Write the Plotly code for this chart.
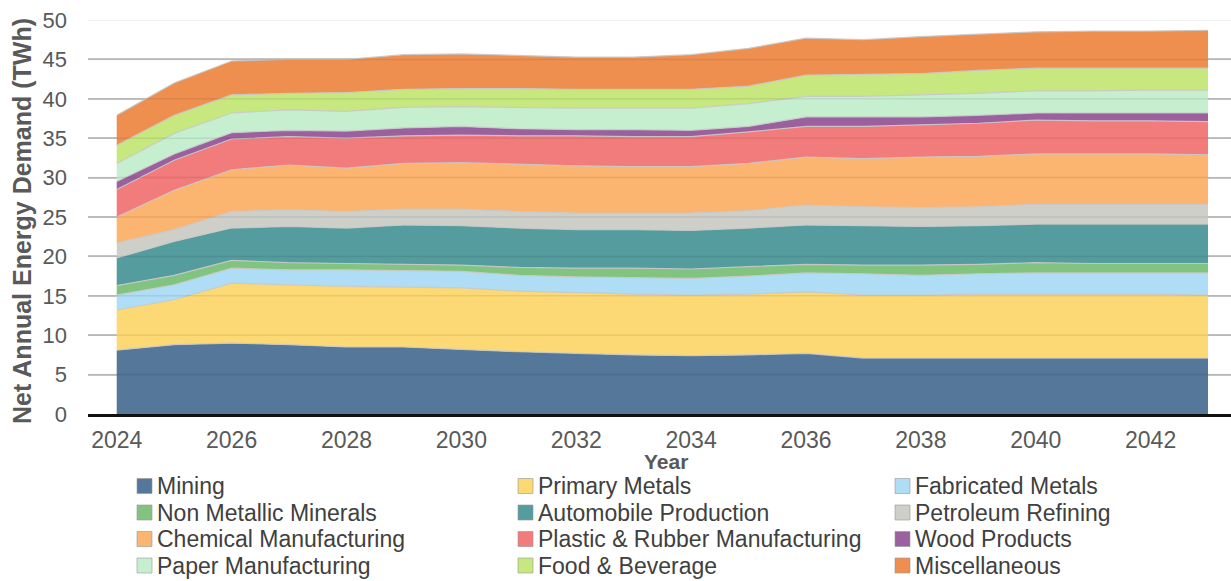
import plotly.graph_objects as go

# ---- data: net annual energy demand by industrial sector (TWh) ----
years = list(range(2024, 2044))

mining = [8.1, 8.8, 9.0, 8.8, 8.5, 8.5, 8.2, 7.9, 7.7, 7.5,
          7.4, 7.5, 7.7, 7.1, 7.1, 7.1, 7.1, 7.1, 7.1, 7.1]
primary_metals = [5.1, 5.7, 7.6, 7.6, 7.7, 7.6, 7.8, 7.7, 7.7, 7.7,
                  7.7, 7.7, 7.8, 8.0, 8.0, 8.1, 8.1, 8.1, 8.1, 8.0]
fabricated_metals = [1.9, 1.9, 1.9, 1.9, 2.1, 2.1, 2.1, 2.0, 2.0, 2.1,
                     2.1, 2.3, 2.4, 2.7, 2.5, 2.6, 2.7, 2.7, 2.7, 2.8]
non_metallic = [1.2, 1.2, 1.0, 0.9, 0.8, 0.8, 0.8, 1.0, 1.1, 1.2,
                1.2, 1.2, 1.1, 1.1, 1.3, 1.2, 1.3, 1.2, 1.2, 1.2]
automobile = [3.5, 4.3, 4.1, 4.6, 4.5, 5.0, 5.0, 5.0, 4.9, 4.9,
              4.9, 4.9, 5.0, 5.0, 4.9, 4.9, 4.9, 5.0, 5.0, 5.0]
petroleum = [1.9, 1.5, 2.1, 2.1, 2.1, 2.0, 2.1, 2.1, 2.1, 2.1,
             2.2, 2.2, 2.5, 2.4, 2.4, 2.4, 2.5, 2.5, 2.5, 2.5]
chemical = [3.3, 5.0, 5.3, 5.7, 5.5, 5.8, 5.9, 6.0, 6.0, 5.9,
            5.9, 6.0, 6.1, 6.1, 6.4, 6.4, 6.4, 6.4, 6.4, 6.3]
plastic_rubber = [3.5, 3.8, 3.9, 3.6, 3.8, 3.5, 3.5, 3.6, 3.8, 3.8,
                  3.8, 4.0, 3.9, 4.1, 4.1, 4.2, 4.3, 4.2, 4.2, 4.2]
wood = [1.0, 0.8, 0.8, 0.8, 0.9, 1.0, 1.1, 0.9, 0.8, 0.9,
        0.8, 0.7, 1.2, 1.2, 1.0, 1.0, 0.9, 1.0, 1.0, 1.1]
paper = [2.3, 2.6, 2.5, 2.6, 2.5, 2.6, 2.5, 2.7, 2.7, 2.7,
         2.8, 2.9, 2.6, 2.6, 2.8, 2.8, 2.8, 2.8, 2.9, 2.9]
food_beverage = [2.3, 2.3, 2.3, 2.1, 2.4, 2.3, 2.3, 2.4, 2.4, 2.4,
                 2.4, 2.2, 2.7, 2.8, 2.7, 2.9, 2.9, 2.9, 2.8, 2.8]
miscellaneous = [3.8, 4.1, 4.3, 4.3, 4.2, 4.4, 4.4, 4.2, 4.1, 4.1,
                 4.4, 4.8, 4.7, 4.4, 4.7, 4.6, 4.6, 4.7, 4.7, 4.8]

sector_names = [
    "Mining", "Primary Metals", "Fabricated Metals",
    "Non Metallic Minerals", "Automobile Production", "Petroleum Refining",
    "Chemical Manufacturing", "Plastic & Rubber Manufacturing", "Wood Products",
    "Paper Manufacturing", "Food & Beverage", "Miscellaneous",
]
sector_values = [
    mining, primary_metals, fabricated_metals,
    non_metallic, automobile, petroleum,
    chemical, plastic_rubber, wood,
    paper, food_beverage, miscellaneous,
]
sector_colors = [
    "#54779A", "#FDD975", "#AEDDF5",
    "#82C47F", "#559C9E", "#CFCFCA",
    "#FBB570", "#F27B7B", "#9A619E",
    "#C6EFD0", "#C6E87E", "#EE8F4F",
]

y_ticks = [0, 5, 10, 15, 20, 25, 30, 35, 40, 45, 50]
x_ticks = list(range(2024, 2044, 2))

GREY_TEXT = "#595959"
FONT = "Liberation Sans, Arial, sans-serif"

# plot-area geometry in pixels (used to lay out the legend block)
W, H = 1231, 581
M_L, M_R, M_T, M_B = 88, 0, 20, 167
PW, PH = W - M_L - M_R, H - M_T - M_B


def px_to_paper_x(px):
    return (px - M_L) / PW


def px_to_paper_y(py):
    return (H - M_B - py) / PH


fig = go.Figure()

for name, vals, color in zip(sector_names, sector_values, sector_colors):
    fig.add_trace(go.Scatter(
        x=years, y=vals, name=name, mode="lines",
        stackgroup="sectors",
        fillcolor=color,
        line=dict(color="rgba(200,200,200,0.9)", width=1.2),
        showlegend=False,
        hovertemplate="%{x}: %{y:.1f} TWh<extra>" + name + "</extra>",
    ))

# faint gridlines that show through the stacked areas
for v in y_ticks[1:]:
    fig.add_shape(type="line", xref="paper", x0=0, x1=1, yref="y", y0=v, y1=v,
                  line=dict(color="rgba(0,0,0,0.08)", width=1.5), layer="above")

# legend block: 3 columns x 4 rows of square swatches with labels
col_px = [137, 518, 895]
row_px = [486, 512.5, 539, 565.5]
sw = 15
for i, (name, color) in enumerate(zip(sector_names, sector_colors)):
    cx, ry = col_px[i % 3], row_px[i // 3]
    fig.add_shape(type="rect", xref="paper", yref="paper",
                  x0=px_to_paper_x(cx), x1=px_to_paper_x(cx + sw),
                  y0=px_to_paper_y(ry + sw / 2), y1=px_to_paper_y(ry - sw / 2),
                  fillcolor=color, line=dict(color="rgba(150,150,150,0.6)", width=1))
    fig.add_annotation(text=name, xref="paper", yref="paper",
                       x=px_to_paper_x(cx + sw + 3), y=px_to_paper_y(ry),
                       xanchor="left", yanchor="middle", showarrow=False,
                       font=dict(family=FONT, size=23, color="#404040"))

# axis titles
fig.add_annotation(text="<b>Net Annual Energy Demand (TWh)</b>", textangle=-90,
                   xref="paper", yref="paper", x=px_to_paper_x(22), y=px_to_paper_y(221),
                   xanchor="center", yanchor="middle", showarrow=False,
                   font=dict(family=FONT, size=25, color=GREY_TEXT))
fig.add_annotation(text="<b>Year</b>", xref="paper", yref="paper",
                   x=px_to_paper_x(666), y=px_to_paper_y(462),
                   xanchor="center", yanchor="middle", showarrow=False,
                   font=dict(family=FONT, size=21, color=GREY_TEXT))

fig.update_layout(
    width=W, height=H,
    margin=dict(l=M_L, r=M_R, t=M_T, b=M_B, pad=0),
    paper_bgcolor="white", plot_bgcolor="white",
    showlegend=False,
    font=dict(family=FONT, color=GREY_TEXT),
)
fig.update_xaxes(
    range=[2023.5, 2043.4], tickmode="array", tickvals=x_ticks,
    ticktext=[str(t) for t in x_ticks], ticks="", ticklabelstandoff=3,
    tickfont=dict(family=FONT, size=23, color=GREY_TEXT),
    showgrid=False, zeroline=False,
    showline=True, linecolor="#111111", linewidth=3,
)
fig.update_yaxes(
    range=[0, 50], tickmode="array", tickvals=y_ticks,
    ticks="", ticklabelstandoff=20,
    tickfont=dict(family=FONT, size=22, color=GREY_TEXT),
    showgrid=True, gridcolor="#C8C8C8", gridwidth=1.5,
    zeroline=False, showline=False,
)

fig.write_html("out.html")
